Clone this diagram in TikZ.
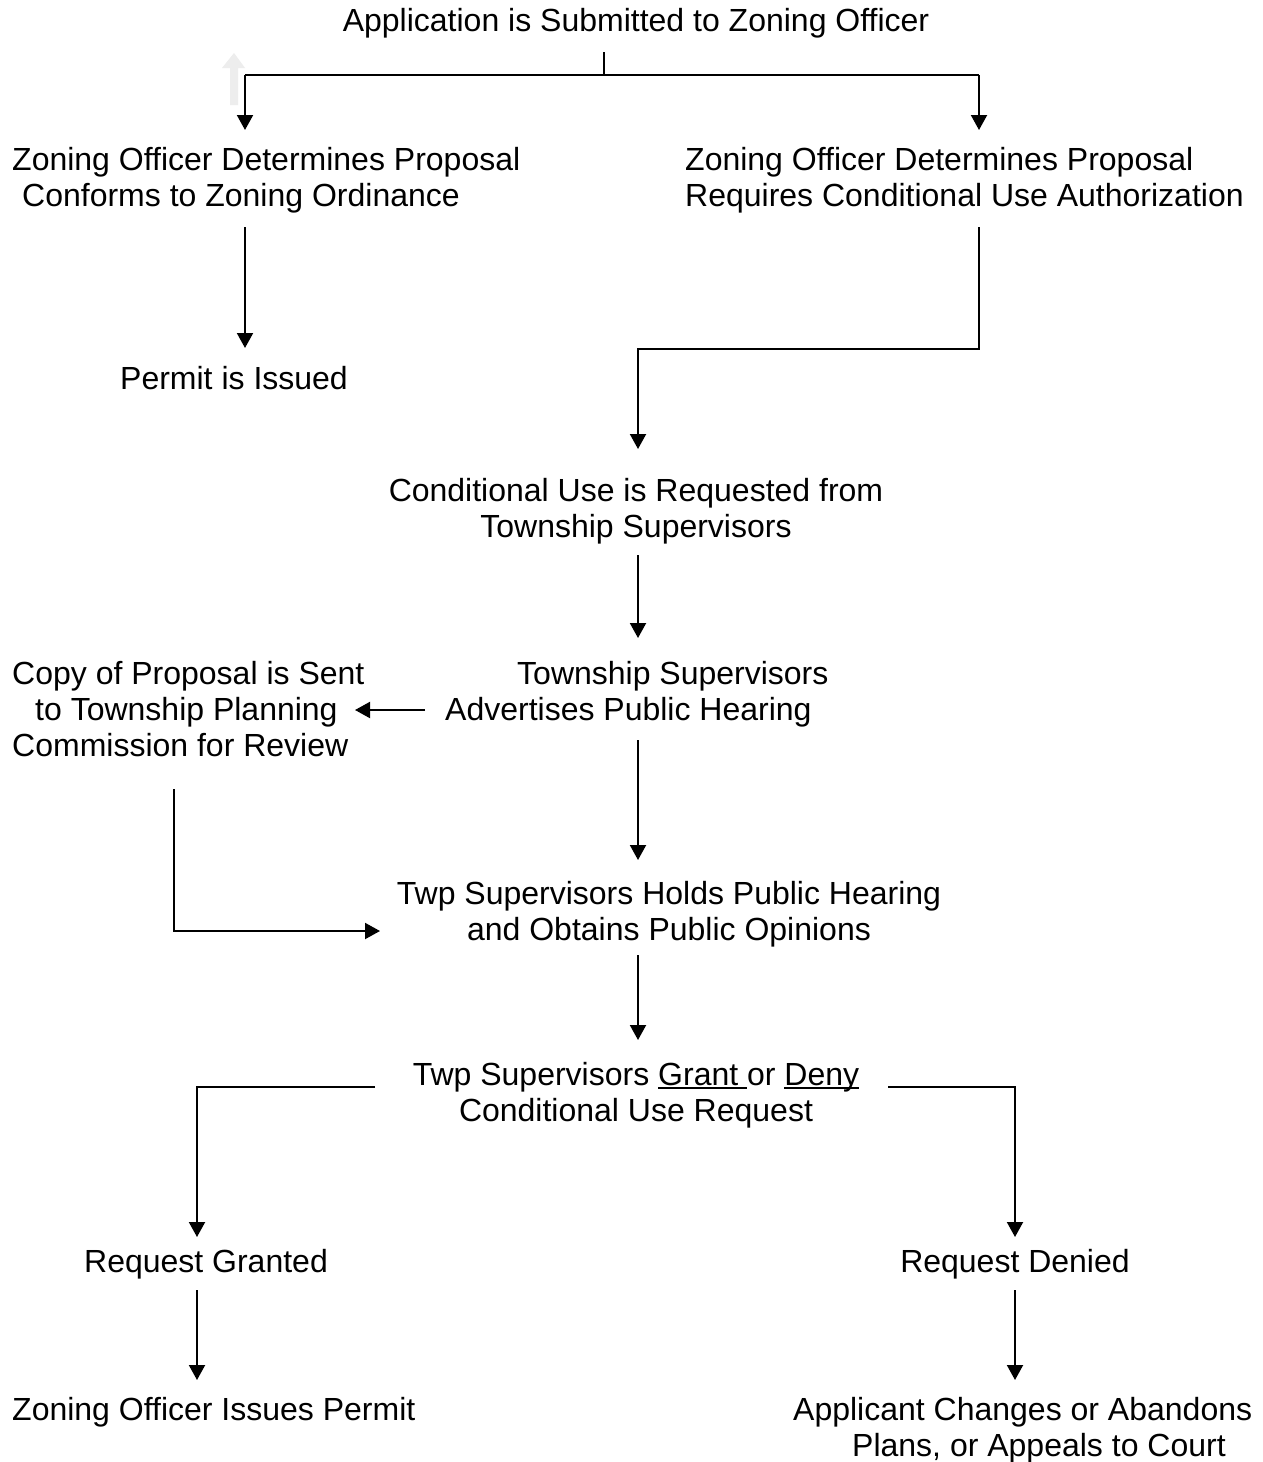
\documentclass[tikz,border=0pt]{standalone}
\usepackage{fontspec}
\setmainfont{Liberation Sans}
\usetikzlibrary{arrows.meta}
\newcommand\myul[1]{\setbox0\hbox{#1}\rlap{\rule[-4pt]{\wd0}{2pt}}\box0}
\begin{document}
\begin{tikzpicture}[x=1pt,y=-1pt,
  txt/.style={inner sep=0pt,font=\fontsize{32}{36}\selectfont},
  conn/.style={line width=2pt,draw=black},
  arr/.style={conn,-{Triangle[length=15pt,width=16pt]}}]
\useasboundingbox (0,0) rectangle (1263,1462);
\fill[white] (0,0) rectangle (1263,1462);
% faint arrow artifact
\fill[black!7] (230,105) -- (238,105) -- (238,68) -- (245,68) -- (234,53) -- (222,68) -- (230,68) -- cycle;
% texts
\node[txt,anchor=base] (title) at (636,31) {Application is Submitted to Zoning Officer};
\node[txt,anchor=base west] (conf) at (12,170) {\begin{tabular}[t]{@{}l@{}}Zoning Officer Determines Proposal\\\hspace*{10pt}Conforms to Zoning Ordinance\end{tabular}};
\node[txt,anchor=base west] (reqc) at (685,170) {\begin{tabular}[t]{@{}l@{}}Zoning Officer Determines Proposal\\Requires Conditional Use Authorization\end{tabular}};
\node[txt,anchor=base] (permit) at (234,389) {Permit is Issued};
\node[txt,anchor=base] (cond) at (636,501) {\begin{tabular}[t]{@{}c@{}}Conditional Use is Requested from\\Township Supervisors\end{tabular}};
\node[txt,anchor=base west] (adv) at (445,684) {\begin{tabular}[t]{@{}l@{}}\hspace*{72pt}Township Supervisors\\Advertises Public Hearing\end{tabular}};
\node[txt,anchor=base west] (copy) at (12,684) {\begin{tabular}[t]{@{}l@{}}Copy of Proposal is Sent\\\hspace*{23pt}to Township Planning\\Commission for Review\end{tabular}};
\node[txt,anchor=base] (hold) at (669,904) {\begin{tabular}[t]{@{}c@{}}Twp Supervisors Holds Public Hearing\\and Obtains Public Opinions\end{tabular}};
\node[txt,anchor=base] (dec) at (636,1085) {\begin{tabular}[t]{@{}c@{}}Twp Supervisors \myul{Grant\ }or \myul{Deny}\\Conditional Use Request\end{tabular}};
\node[txt,anchor=base] (gran) at (206,1272) {Request Granted};
\node[txt,anchor=base] (deni) at (1015,1272) {Request Denied};
\node[txt,anchor=base west] (issue) at (12,1420) {Zoning Officer Issues Permit};
\node[txt,anchor=base west] (chg) at (793,1420) {\begin{tabular}[t]{@{}l@{}}Applicant Changes or Abandons\\\hspace*{59pt}Plans, or Appeals to Court\end{tabular}};
% connector points
\coordinate (t0) at (604,52);
\coordinate (t1) at (604,75);
\coordinate (tl) at (245,75);
\coordinate (tr) at (979,75);
\coordinate (c1a) at (245,130);
\coordinate (c2a) at (979,130);
\coordinate (c1b) at (245,227);
\coordinate (p1) at (245,348);
\coordinate (c2b) at (979,227);
\coordinate (c2c) at (979,349);
\coordinate (c2d) at (638,349);
\coordinate (cd) at (638,449);
\coordinate (cb) at (638,555);
\coordinate (ad) at (638,638);
\coordinate (al) at (425,710);
\coordinate (cr) at (355,710);
\coordinate (ab) at (638,740);
\coordinate (ht) at (638,860);
\coordinate (cpb) at (174,789);
\coordinate (cpc) at (174,931);
\coordinate (hl) at (380,931);
\coordinate (hb) at (638,955);
\coordinate (dt) at (638,1040);
\coordinate (dl) at (375,1087);
\coordinate (dl2) at (197,1087);
\coordinate (gt) at (197,1237);
\coordinate (dr) at (888,1087);
\coordinate (dr2) at (1015,1087);
\coordinate (nt) at (1015,1237);
\coordinate (gb) at (197,1290);
\coordinate (it) at (197,1380);
\coordinate (nb) at (1015,1290);
\coordinate (cht) at (1015,1380);
% connectors
\draw[conn] (t0) -- (t1);
\draw[conn] (tl) -- (tr);
\draw[arr] (tl) -- (c1a);
\draw[arr] (tr) -- (c2a);
\draw[arr] (c1b) -- (p1);
\draw[arr] (c2b) -- (c2c) -- (c2d) -- (cd);
\draw[arr] (cb) -- (ad);
\draw[arr] (al) -- (cr);
\draw[arr] (ab) -- (ht);
\draw[arr] (cpb) -- (cpc) -- (hl);
\draw[arr] (hb) -- (dt);
\draw[arr] (dl) -- (dl2) -- (gt);
\draw[arr] (dr) -- (dr2) -- (nt);
\draw[arr] (gb) -- (it);
\draw[arr] (nb) -- (cht);
\end{tikzpicture}
\end{document}
